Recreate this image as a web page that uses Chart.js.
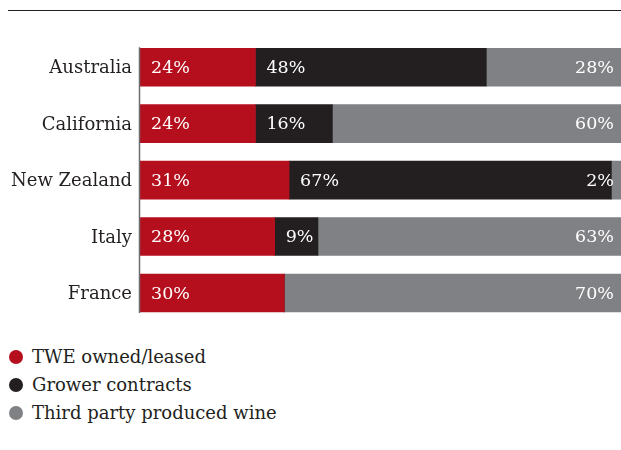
<!DOCTYPE html>
<html>
<head>
<meta charset="utf-8">
<script src="https://cdn.jsdelivr.net/npm/chart.js@4"></script>
<style>
  body { margin: 0; background: #fff; font-family: "DejaVu Serif", serif; }
  #wrap { position: relative; width: 621px; height: 450px; }
  #rule { position: absolute; left: 8px; top: 10px; width: 613px; height: 1px; background: #231f20; }
  #box { position: absolute; left: 0; top: 0; width: 621px; height: 340px; }
  #legend { position: absolute; left: 9px; top: 345px; font-size: 18px; color: #231f20; }
  #legend div { height: 28px; line-height: 24px; white-space: nowrap; }
  #legend span { display: inline-block; width: 14px; height: 14px; border-radius: 50%; margin-right: 9px; vertical-align: -1px; }
</style>
</head>
<body>
<div id="wrap">
  <div id="rule"></div>
  <div id="box"><canvas id="chart"></canvas></div>
  <div id="legend"></div>
</div>
<script>
// regions and the share of grapes by source (%)
const regions = ['Australia', 'California', 'New Zealand', 'Italy', 'France'];
const owned = [24, 24, 31, 28, 30];
const grower = [48, 16, 67, 9, 0];
const thirdParty = [28, 60, 2, 63, 70];
const seriesNames = ['TWE owned/leased', 'Grower contracts', 'Third party produced wine'];
const colors = ['#b50e1c', '#231f20', '#808184'];

const serif = '"DejaVu Serif", serif';

// white % labels inside the bars
const barLabels = {
  id: 'barLabels',
  afterDatasetsDraw(chart) {
    const ctx = chart.ctx;
    ctx.save();
    ctx.font = '17.5px ' + serif;
    ctx.fillStyle = '#fff';
    ctx.textBaseline = 'middle';
    chart.data.datasets.forEach((ds, di) => {
      chart.getDatasetMeta(di).data.forEach((bar, i) => {
        const v = ds.data[i];
        if (!v) return;
        if (di < 2) {
          ctx.textAlign = 'left';
          ctx.fillText(v + '%', bar.base + 11, bar.y + 1);
        } else {
          ctx.textAlign = 'right';
          ctx.fillText(v + '%', chart.chartArea.right - 7, bar.y + 1);
        }
      });
    });
    ctx.restore();
  }
};

// axis line only spanning the bars
const axisLine = {
  id: 'axisLine',
  afterDatasetsDraw(chart) {
    const bars = chart.getDatasetMeta(0).data;
    const first = bars[0], last = bars[bars.length - 1];
    const ctx = chart.ctx;
    ctx.save();
    ctx.strokeStyle = '#6d6e71';
    ctx.lineWidth = 1.5;
    ctx.beginPath();
    ctx.moveTo(chart.chartArea.left - 0.5, first.y - first.height / 2 - 1);
    ctx.lineTo(chart.chartArea.left - 0.5, last.y + last.height / 2 + 1);
    ctx.stroke();
    ctx.restore();
  }
};

const datasets = [owned, grower, thirdParty].map((d, i) => ({
  label: seriesNames[i],
  data: d,
  backgroundColor: colors[i],
  barThickness: 38,
  borderWidth: 0
}));

new Chart(document.getElementById('chart'), {
  type: 'bar',
  data: { labels: regions, datasets: datasets },
  options: {
    indexAxis: 'y',
    responsive: true,
    maintainAspectRatio: false,
    animation: false,
    layout: { padding: { top: 39, bottom: 9, left: 0, right: 0 } },
    plugins: { legend: { display: false }, tooltip: { enabled: false } },
    scales: {
      x: { stacked: true, min: 0, max: 100, display: false },
      y: {
        stacked: true,
        grid: { display: false, drawTicks: false },
        border: { display: false },
        ticks: { color: '#231f20', padding: 8, labelOffset: 1.5, font: { family: serif, size: 18 } },
        afterFit: s => { s.width = 140; }
      }
    }
  },
  plugins: [barLabels, axisLine]
});

document.getElementById('legend').innerHTML = seriesNames
  .map((n, i) => '<div><span style="background:' + colors[i] + '"></span>' + n + '</div>')
  .join('');
</script>
</body>
</html>
